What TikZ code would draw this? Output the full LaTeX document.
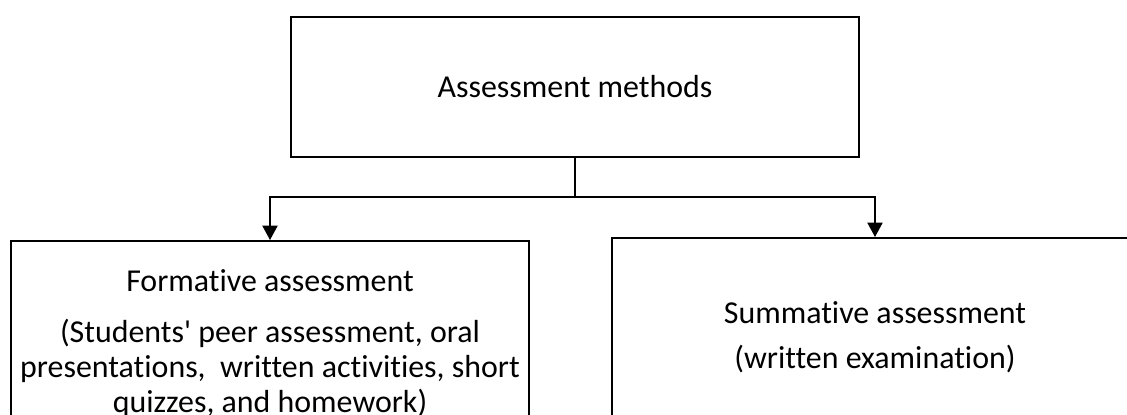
\documentclass[tikz,border=0pt]{standalone}
\usepackage{fontspec}
\setmainfont{Carlito}[Ligatures=NoCommon]
\usetikzlibrary{positioning,arrows.meta}

\begin{document}
\begin{tikzpicture}[
  box/.style={draw=black, line width=1.2pt, align=center, inner sep=0pt, font=\fontsize{22.7}{24.9}\selectfont},
  conn/.style={draw=black, line width=1pt},
  arr/.style={conn, -{Triangle[length=3.6mm, width=3.8mm]}}
]

\fill[white] (0,0) rectangle (28.175,-10.35);
\clip (0,0) rectangle (28.175,-10.35);

\node[box, minimum width=14.2cm, minimum height=3.5cm] (nMeth) at (14.375,-2.175) {Assessment methods};
\node[box, anchor=north, minimum width=12.95cm, minimum height=5.15cm] (nForm) at (6.75,-6.0)
  {Formative assessment\\[11.4pt]
   (Students\textquotesingle{} peer assessment, oral\\
   presentations,~ written activities, short\\
   quizzes, and homework)};
\node[box, anchor=north, minimum width=13.15cm, minimum height=4.95cm] (nSum) at (21.875,-5.925)
  {Summative assessment\\[7pt]
   (written examination)};
\coordinate (jn) at (14.375,-4.925);
\draw[conn] (nMeth.south) -- (jn);
\draw[arr] (jn) -| (nForm.north);
\draw[arr] (jn) -| (nSum.north);

\end{tikzpicture}
\end{document}
